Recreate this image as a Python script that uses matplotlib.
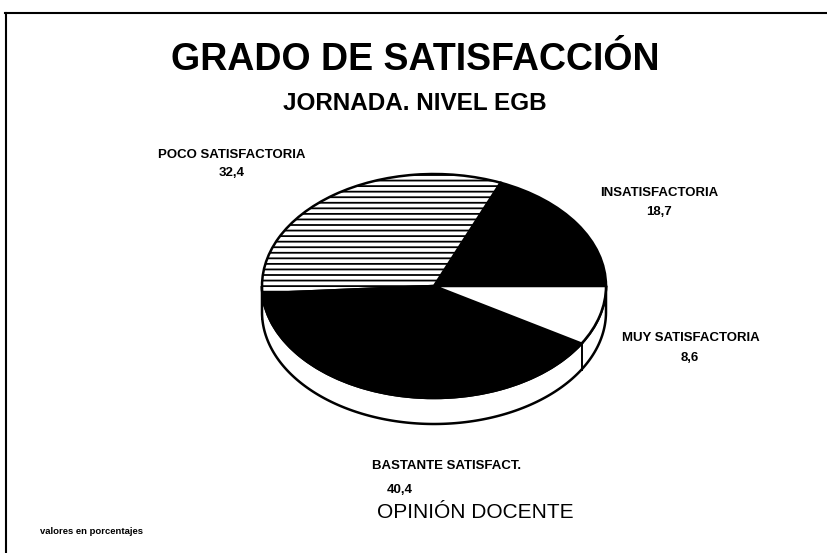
import numpy as np
import matplotlib
matplotlib.use("Agg")
from matplotlib import pyplot as plt
from matplotlib.patches import Polygon

# data (counter-clockwise from 3 o'clock)
categories = ["INSATISFACTORIA", "POCO SATISFACTORIA", "BASTANTE SATISFACT.", "MUY SATISFACTORIA"]
values = [18.7, 32.4, 40.4, 8.6]
value_labels = ["18,7", "32,4", "40,4", "8,6"]
face_colors = ["black", "white", "black", "white"]
hatches = ["", "---", "", ""]

plt.rcParams["font.family"] = ["Liberation Sans", "DejaVu Sans"]
plt.rcParams["hatch.linewidth"] = 1.3

W, H = 828, 553
fig = plt.figure(figsize=(W / 100, H / 100), dpi=100)
fig.patch.set_facecolor("white")

# pie geometry in pixels
cx, cy = 434, 286
a, b = 172, 112
depth = 26 / b

x0, x1 = -1.1, 1.1
y0, y1 = -1.4, 1.1
left = cx + x0 * a
top = cy - y1 * b
wpx = (x1 - x0) * a
hpx = (y1 - y0) * b
ax = fig.add_axes([left / W, (H - (top + hpx)) / H, wpx / W, hpx / H])

# side of the 3d pie (front half only)
th = np.linspace(np.pi, 2 * np.pi, 200)
xs = np.cos(th)
ys = np.sin(th)
side = np.column_stack([np.concatenate([xs, xs[::-1]]),
                        np.concatenate([ys, ys[::-1] - depth])])
ax.add_patch(Polygon(side, closed=True, facecolor="white", edgecolor="black",
                     linewidth=1.8, zorder=1))

bounds = 360 * np.cumsum(values) / np.sum(values)
for ang in bounds:
    t = np.radians(ang)
    if np.sin(t) < -0.05:
        ax.plot([np.cos(t), np.cos(t)], [np.sin(t), np.sin(t) - depth],
                color="black", linewidth=1.4, zorder=2)

wedges, _ = ax.pie(values, colors=face_colors, startangle=0, counterclock=True,
                   wedgeprops=dict(edgecolor="black", linewidth=1.8))
for w, h in zip(wedges, hatches):
    w.set_hatch(h)
    w.set_zorder(3)

ax.set_aspect("auto")
ax.set_xlim(x0, x1)
ax.set_ylim(y0, y1)
ax.axis("off")

# overlay for texts and frame
tx = fig.add_axes([0, 0, 1, 1])
tx.set_xlim(0, W)
tx.set_ylim(H, 0)
tx.axis("off")
tx.patch.set_alpha(0)

tx.plot([5, W], [13, 13], color="black", linewidth=1.5)
tx.plot([6, 6], [13, H], color="black", linewidth=1.5)

tx.text(415, 60, "GRADO DE SATISFACCIÓN", ha="center", va="center",
        fontsize=27, fontweight="bold")
tx.text(415, 103, "JORNADA. NIVEL EGB", ha="center", va="center",
        fontsize=17.5, fontweight="bold")

lab_pos = [(659, 193, 659, 212), (232, 155, 232, 173),
           (447, 466, 400, 490), (691, 338, 690, 358)]
for name, val, (lx, ly, vx, vy) in zip(categories, value_labels, lab_pos):
    tx.text(lx, ly, name, ha="center", va="center", fontsize=9.5, fontweight="bold")
    tx.text(vx, vy, val, ha="center", va="center", fontsize=9.5, fontweight="bold")

tx.text(475, 512, "OPINIÓN DOCENTE", ha="center", va="center", fontsize=15)
tx.text(40, 531, "valores en porcentajes", ha="left", va="center",
        fontsize=6.8, fontweight="bold")

fig.savefig("out.png", dpi=100)
